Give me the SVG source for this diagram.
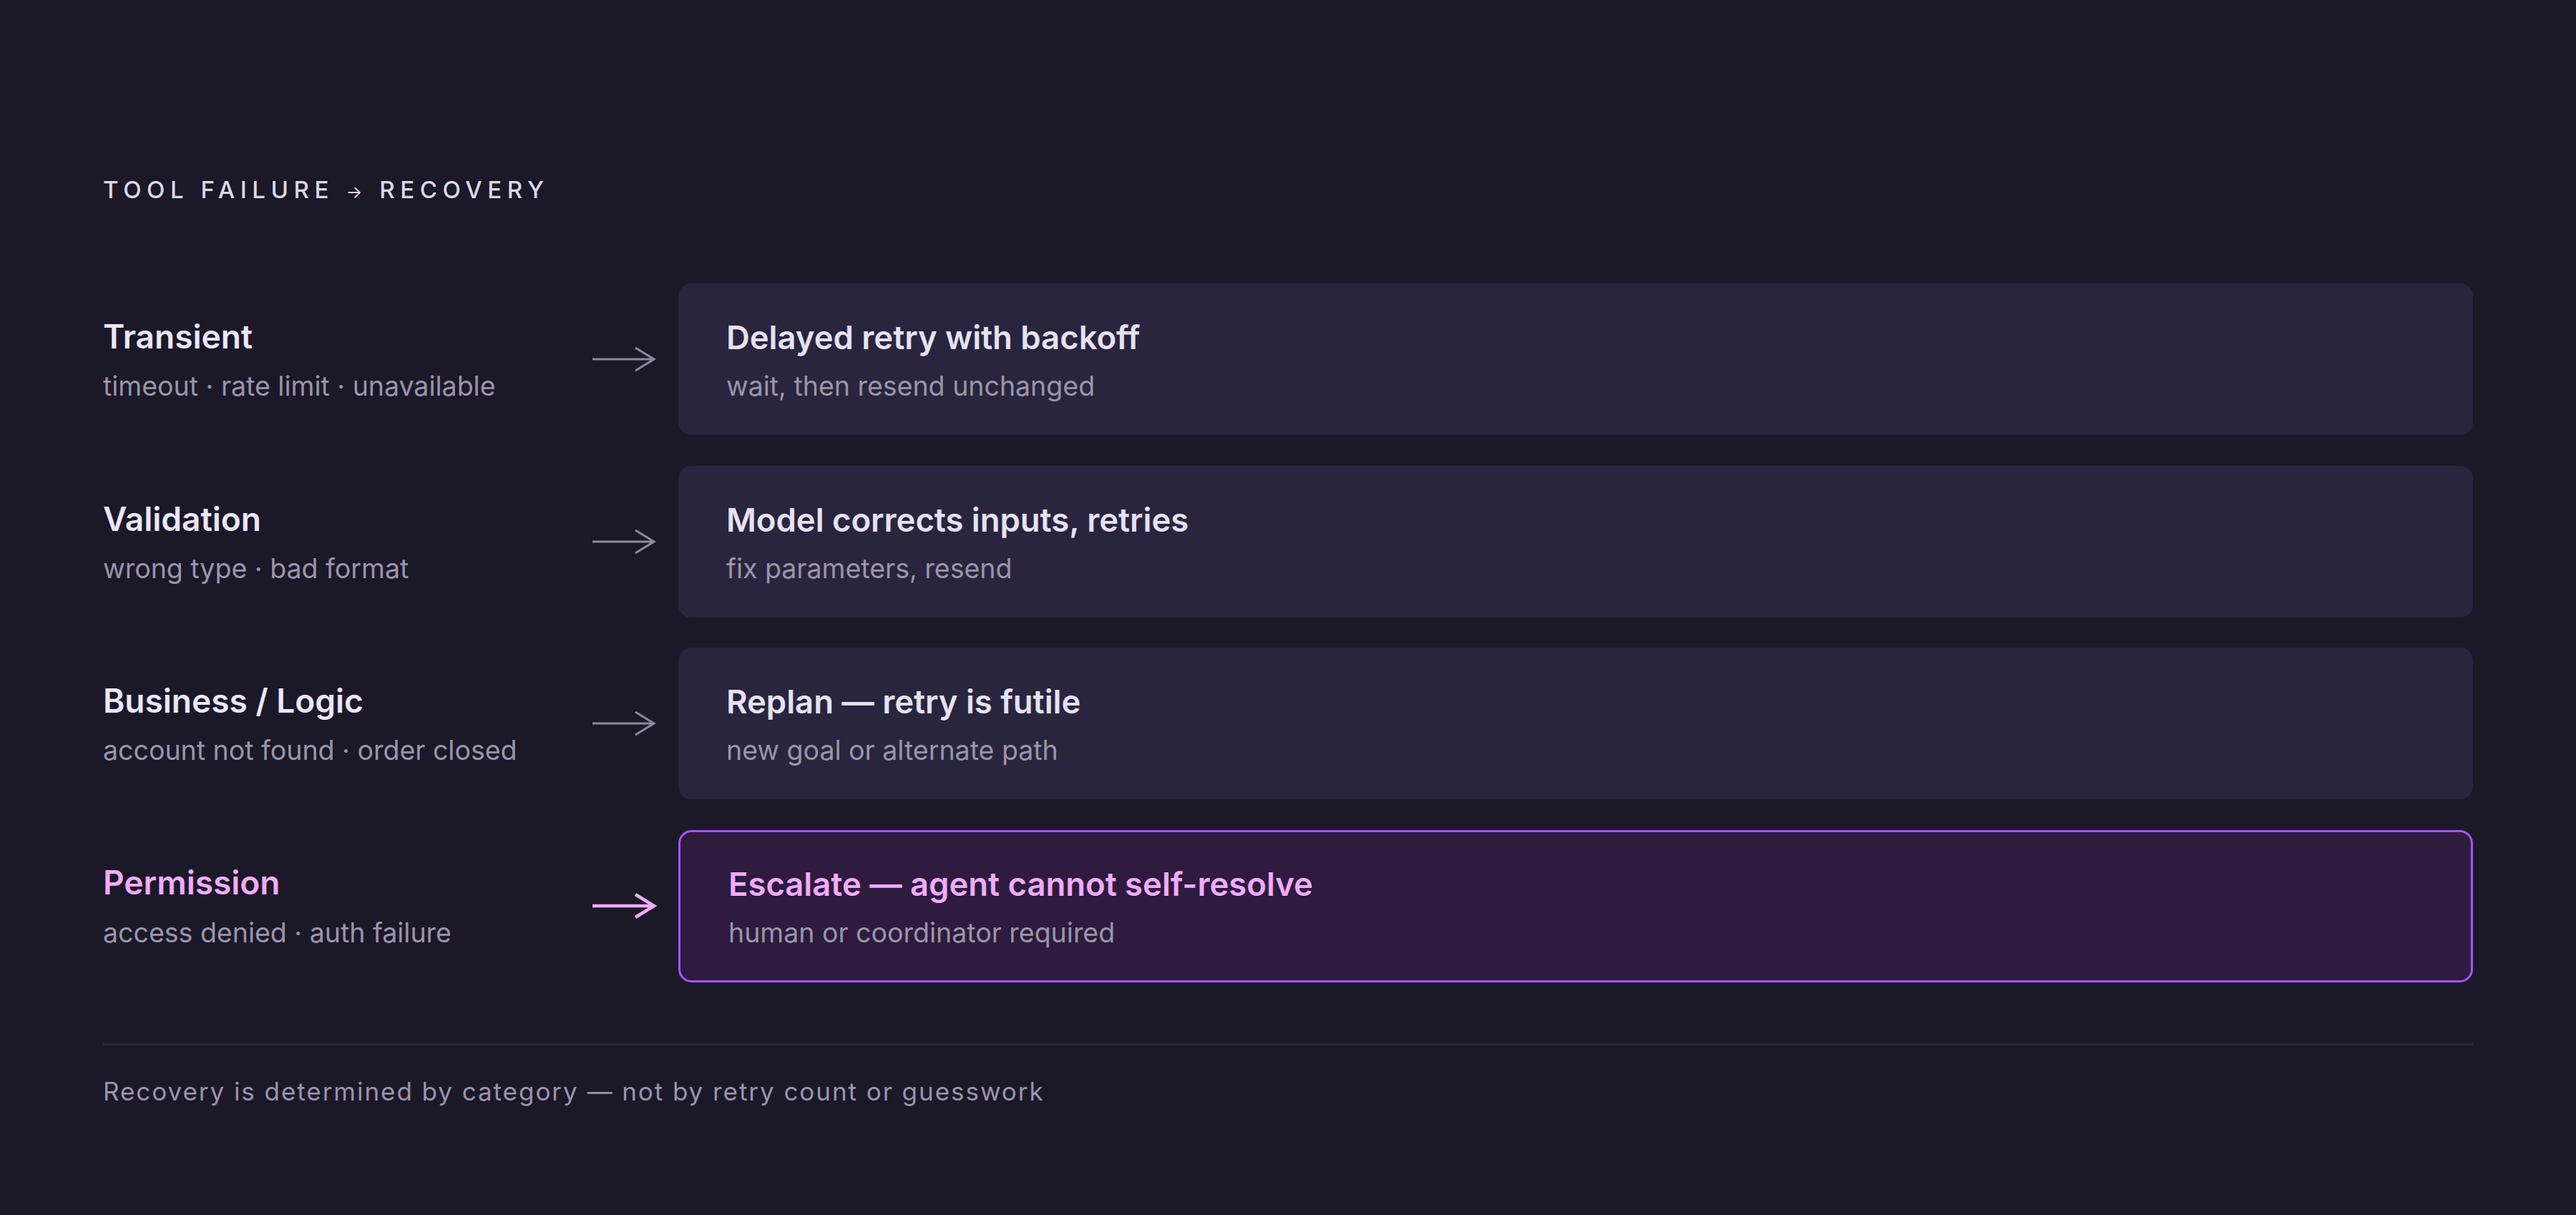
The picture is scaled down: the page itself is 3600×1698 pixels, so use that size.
<svg xmlns="http://www.w3.org/2000/svg" width="3600" height="1698" viewBox="0 0 3600 1698">
<defs>
<style>
text{font-family:Inter,"Noto Sans","Liberation Sans",sans-serif}
.hdr{font-size:33px;font-weight:500;fill:#dcd8ea;letter-spacing:7.6px}
.hdra{font-size:24px;font-weight:400}
.cat{font-size:46px;font-weight:600;fill:#ebe7f6}
.catp{font-size:46px;font-weight:600;fill:#f0abfc}
.sub{font-size:37.5px;font-weight:400;fill:#9a95aa}
.ttl{font-size:45.4px;font-weight:600;fill:#e6e2f3}
.ttlp{font-size:45.4px;font-weight:600;fill:#f0abfc}
.box{fill:#29253e}
.boxp{fill:#2e1b3e;stroke:#a855f7;stroke-width:3}
.arr{fill:none;stroke:#8e8a9e;stroke-width:3;stroke-linecap:butt;stroke-linejoin:miter}
.arrp{fill:none;stroke:#f0abfc;stroke-width:4.5;stroke-linecap:butt;stroke-linejoin:miter}
.foot{font-size:35px;font-weight:400;fill:#9a95aa;letter-spacing:1.95px}
</style>
</defs>
<rect x="0" y="0" width="3600" height="1698" fill="#1b1828"/>
<text id="header" class="hdr" x="144" y="277">TOOL FAILURE <tspan class="hdra">→</tspan> RECOVERY</text>

<g id="cat-transient">
<text class="cat" x="144" y="487">Transient</text>
<text class="sub" x="144" y="553">timeout · rate limit · unavailable</text>
</g>
<g id="rec-transient">
<rect class="box" x="948" y="396" width="2508" height="212" rx="18"/>
<text class="ttl" x="1015" y="488">Delayed retry with backoff</text>
<text class="sub" x="1015" y="553">wait, then resend unchanged</text>
</g>

<g id="cat-validation">
<text class="cat" x="144" y="742">Validation</text>
<text class="sub" x="144" y="808">wrong type · bad format</text>
</g>
<g id="rec-validation">
<rect class="box" x="948" y="651" width="2508" height="212" rx="18"/>
<text class="ttl" x="1015" y="743">Model corrects inputs, retries</text>
<text class="sub" x="1015" y="808">fix parameters, resend</text>
</g>

<g id="cat-business">
<text class="cat" x="144" y="996">Business / Logic</text>
<text class="sub" x="144" y="1062">account not found · order closed</text>
</g>
<g id="rec-business">
<rect class="box" x="948" y="905" width="2508" height="212" rx="18"/>
<text class="ttl" x="1015" y="997">Replan — retry is futile</text>
<text class="sub" x="1015" y="1062">new goal or alternate path</text>
</g>

<g id="cat-permission">
<text class="catp" x="144" y="1250">Permission</text>
<text class="sub" x="144" y="1317">access denied · auth failure</text>
</g>
<g id="rec-permission">
<rect class="boxp" x="949.5" y="1161.5" width="2505" height="210" rx="17"/>
<text class="ttlp" x="1018" y="1252">Escalate — agent cannot self-resolve</text>
<text class="sub" x="1018" y="1317">human or coordinator required</text>
</g>

<g id="connectors">
<path class="arr" d="M828 502 H914 M888 486 L914 502 L888 518"/>
<path class="arr" d="M828 757 H914 M888 741 L914 757 L888 773"/>
<path class="arr" d="M828 1011 H914 M888 995 L914 1011 L888 1027"/>
<path class="arrp" d="M828 1266 H913 M888 1250 L914 1266 L888 1282"/>
</g>

<line x1="144" y1="1459.5" x2="3456" y2="1459.5" stroke="#2a2740" stroke-width="3"/>
<text id="footer" class="foot" x="144" y="1538">Recovery is determined by category — not by retry count or guesswork</text>
</svg>
